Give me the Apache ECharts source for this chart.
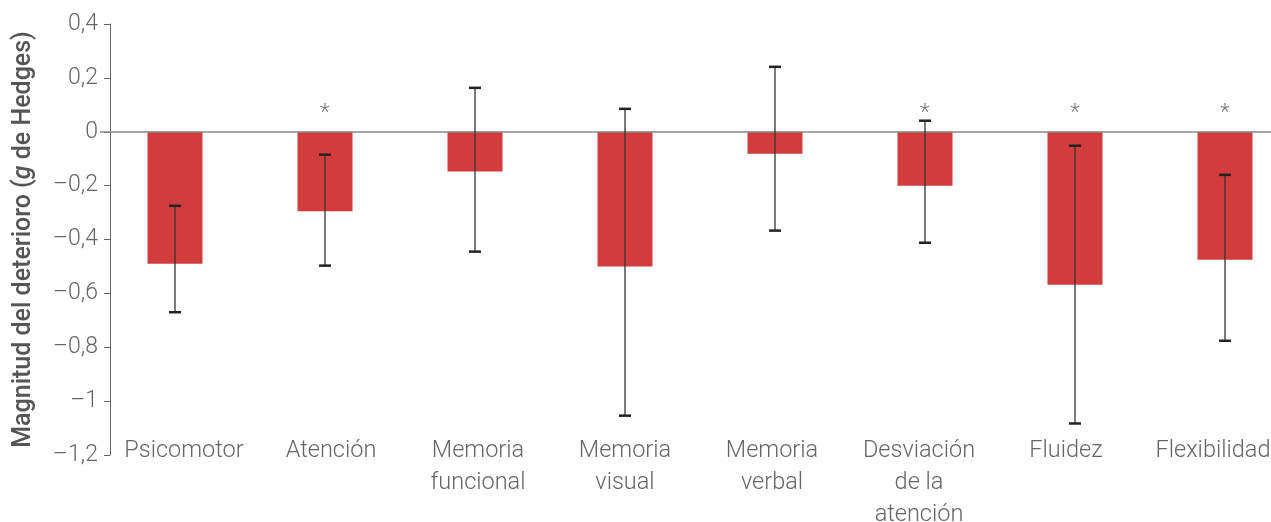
<!DOCTYPE html>
<html>
<head>
<meta charset="utf-8">
<script src="https://cdn.jsdelivr.net/npm/echarts@6/dist/echarts.min.js"></script>
<style>html,body{margin:0;padding:0;background:#fff}#c{width:1271px;height:522px}</style>
</head>
<body>
<div id="c"></div>
<script>
const categories = ['Psicomotor','Atención','Memoria\nfuncional','Memoria\nvisual','Memoria\nverbal','Desviación\nde la\natención','Fluidez','Flexibilidad'];
const values = [-0.49, -0.295, -0.148, -0.50, -0.082, -0.20, -0.568, -0.475];
const lower = [-0.67, -0.497, -0.445, -1.054, -0.367, -0.412, -1.083, -0.776];
const upper = [-0.275, -0.085, 0.163, 0.085, 0.241, 0.041, -0.052, -0.16];
const significant = [0, 1, 0, 0, 0, 1, 1, 1];

const FONT = 'Roboto';
const chart = echarts.init(document.getElementById('c'), null, {renderer: 'canvas'});

function fmt(v) {
  const r = Math.round(v * 10) / 10;
  if (r === 0) return '0';
  let s = Math.abs(r).toString().replace('.', ',');
  return (r < 0 ? '\u2013' : '') + s;
}

const errData = categories.map((c, i) => [i, lower[i], upper[i], significant[i]]);

chart.setOption({
  animation: false,
  grid: [
    {left: 100, width: 1200, top: 24, bottom: 67, containLabel: false, outerBoundsMode: 'none'},
    {left: 110.5, width: 1176, top: 24, bottom: 67, containLabel: false, outerBoundsMode: 'none'}
  ],
  xAxis: [
    {
      type: 'category',
      gridIndex: 0,
      data: categories,
      axisLine: {show: false},
      axisTick: {show: false},
      axisLabel: {show: false}
    },
    {
      type: 'category',
      gridIndex: 1,
      data: categories,
      axisLine: {show: false},
      axisTick: {show: false},
      axisLabel: {
        interval: 0,
        margin: -20,
        color: '#666',
        fontFamily: FONT,
        fontWeight: 300,
        fontSize: 23.5,
        lineHeight: 32,
        verticalAlign: 'top'
      }
    }
  ],
  yAxis: [
    {
      type: 'value',
      gridIndex: 0,
      min: -1.2,
      max: 0.4,
      interval: 0.2,
      offset: -10,
      splitLine: {show: false},
      axisLine: {show: true, lineStyle: {color: '#666', width: 1}},
      axisTick: {show: true, length: 6, lineStyle: {color: '#666'}},
      axisLabel: {
        formatter: fmt,
        color: '#666',
        fontFamily: FONT,
        fontWeight: 300,
        fontSize: 23,
        margin: 12
      },
      name: '{a|Magnitud del deterioro (}{b|g}{a| de Hedges)}',
      nameLocation: 'middle',
      nameGap: 74,
      nameRotate: 90,
      nameTextStyle: {
        rich: {
          a: {fontFamily: FONT, fontSize: 25, fontWeight: 500, color: '#555'},
          b: {fontFamily: FONT, fontSize: 25, fontWeight: 500, fontStyle: 'italic', color: '#555'}
        }
      }
    },
    {
      type: 'value',
      gridIndex: 1,
      min: -1.2,
      max: 0.4,
      show: false
    }
  ],
  series: [
    {
      type: 'bar',
      data: values,
      barWidth: 55,
      itemStyle: {color: '#d23c3c'},
      markLine: {
        silent: true,
        symbol: 'none',
        label: {show: false},
        lineStyle: {color: '#888', width: 1.5, type: 'solid'},
        data: [{yAxis: 0}]
      }
    },
    {
      type: 'custom',
      data: errData,
      z: 10,
      renderItem: function (params, api) {
        const x = api.value(0);
        const lo = api.coord([x, api.value(1)]);
        const hi = api.coord([x, api.value(2)]);
        const zero = api.coord([x, 0]);
        const cap = 6;
        const children = [
          {type: 'line', shape: {x1: lo[0], y1: lo[1], x2: hi[0], y2: hi[1]}, style: {stroke: '#333', lineWidth: 1.3}},
          {type: 'line', shape: {x1: lo[0] - cap, y1: lo[1], x2: lo[0] + cap, y2: lo[1]}, style: {stroke: '#222', lineWidth: 2.5}},
          {type: 'line', shape: {x1: hi[0] - cap, y1: hi[1], x2: hi[0] + cap, y2: hi[1]}, style: {stroke: '#222', lineWidth: 2.5}}
        ];
        if (api.value(3)) {
          children.push({
            type: 'text',
            style: {text: '*', x: zero[0], y: zero[1] - 18, align: 'center', verticalAlign: 'middle',
              fill: '#777', font: '300 22px ' + FONT}
          });
        }
        return {type: 'group', children: children};
      }
    }
  ]
});
</script>
</body>
</html>
